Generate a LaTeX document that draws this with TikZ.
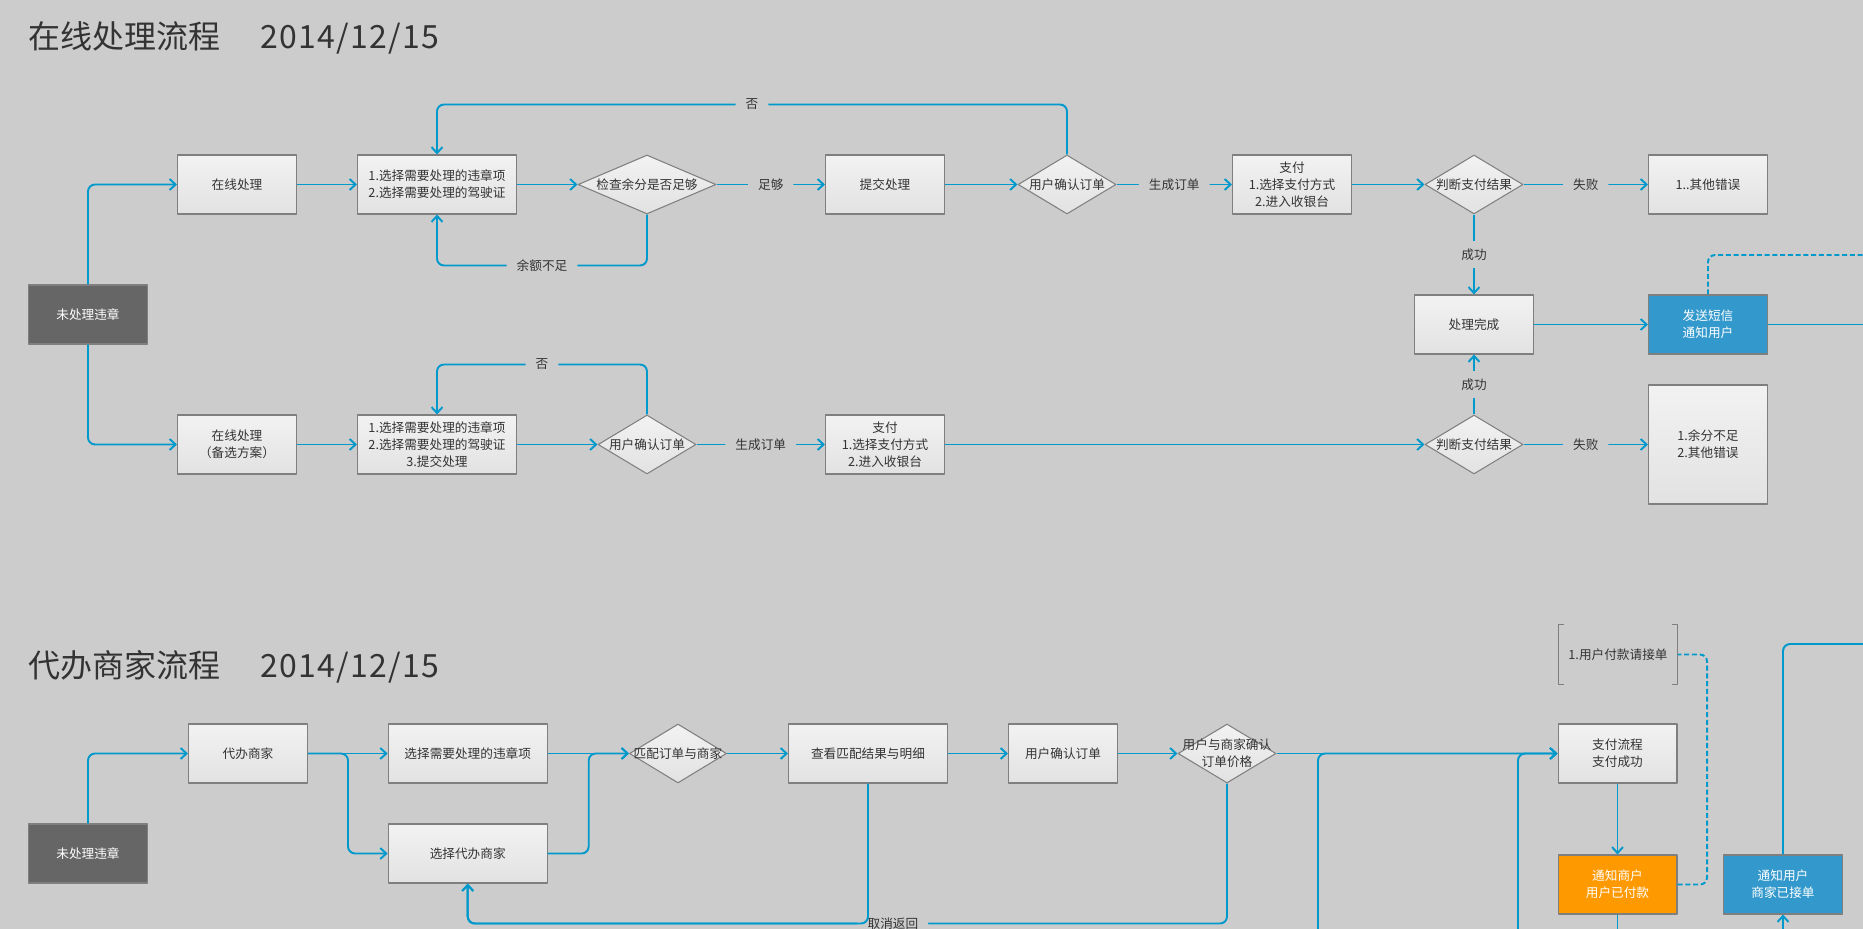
\documentclass[tikz,border=0pt]{standalone}
\usepackage{fontspec}
\newfontfamily\cjk{Noto Sans CJK SC}
\usetikzlibrary{shapes.geometric,arrows.meta}
\definecolor{bgc}{HTML}{CCCCCC}
\definecolor{linec}{HTML}{0099CC}
\definecolor{boxtop}{HTML}{F2F2F2}
\definecolor{boxbot}{HTML}{E2E2E2}
\definecolor{bordc}{HTML}{7F7F7F}
\definecolor{darkc}{HTML}{666666}
\definecolor{bluec}{HTML}{3399CC}
\definecolor{orangec}{HTML}{FF9900}
\definecolor{txt}{HTML}{333333}
\begin{document}
\begin{tikzpicture}[
    x=0.02cm,y=-0.02cm,line join=round,
    font=\cjk\fontsize{7.2}{9.8}\selectfont,text=txt,
    blk/.style={rectangle,draw=bordc,line width=0.6pt,minimum width=2.38cm,
        minimum height=1.18cm,align=center,inner sep=1pt},
    box/.style={blk,top color=boxtop,bottom color=boxbot},
    widebox/.style={box,minimum width=3.18cm},
    pending/.style={blk,fill=darkc,text=white},
    sms/.style={blk,fill=bluec,text=white},
    shop/.style={blk,fill=orangec,text=white},
    cond/.style={diamond,draw=bordc,line width=0.6pt,top color=boxtop,
        bottom color=boxbot,minimum width=1.96cm,minimum height=1.18cm,inner sep=0pt},
    wire/.style={draw=linec,line width=1.1pt,rounded corners=4pt},
    flow/.style={wire,-{Straight Barb[length=0.12cm,width=0.22cm]}},
    dline/.style={wire,dash pattern=on 0.1cm off 0.055cm},
    lbl/.style={fill=bgc,inner xsep=0.2cm,inner ysep=0.15cm},
    heading/.style={font=\cjk\fontsize{18.2}{20}\selectfont,anchor=west,inner sep=0pt}
]
    \useasboundingbox (0,0) rectangle (1863,929);
    \fill[bgc] (0,0) rectangle (1863,929);

    \node[heading] (t1) at (28.5,38) {在线处理流程\hspace{0.8cm}{\addfontfeatures{LetterSpace=4}2014/12/15}};
    \node[pending] (wcl1) at (88,314.5) {未处理违章};
    \node[box] (zx) at (237,184.5) {在线处理};
    \node[widebox] (xz1) at (437,184.5) {1.选择需要处理的违章项\\2.选择需要处理的驾驶证};
    \node[cond,minimum width=2.76cm,label=center:检查余分是否足够] (jc) at (647,184.5) {};
    \node[box] (tj) at (885,184.5) {提交处理};
    \node[cond,label=center:用户确认订单] (qr1) at (1067,184.5) {};
    \node[box] (zf1) at (1292,184.5) {支付\\1.选择支付方式\\2.进入收银台};
    \node[cond,label=center:判断支付结果] (pd1) at (1474,184.5) {};
    \node[box] (cw1) at (1708,184.5) {1..其他错误};
    \node[box] (wc) at (1474,324.5) {处理完成};
    \node[sms] (dx) at (1708,324.5) {发送短信\\通知用户};
    \node[box] (zx2) at (237,444.5) {在线处理\\（备选方案）};
    \node[widebox] (xz2) at (437,444.5) {1.选择需要处理的违章项\\2.选择需要处理的驾驶证\\3.提交处理};
    \node[cond,label=center:用户确认订单] (qr2) at (647,444.5) {};
    \node[box] (zf2) at (885,444.5) {支付\\1.选择支付方式\\2.进入收银台};
    \node[cond,label=center:判断支付结果] (pd2) at (1474,444.5) {};
    \node[box,minimum height=2.38cm] (cw2) at (1708,444.5) {1.余分不足\\2.其他错误};
    \coordinate (dxr) at (1863,324.5);
    \coordinate (dxd) at (1863,255);

    \draw[flow] (wcl1) |- (zx);
    \draw[flow] (zx) -- (xz1);
    \draw[flow] (xz1) -- (jc);
    \draw[flow] (jc) -- node[lbl]{足够} (tj);
    \draw[flow] (tj) -- (qr1);
    \draw[flow] (qr1) -- node[lbl]{生成订单} (zf1);
    \draw[flow] (zf1) -- (pd1);
    \draw[flow] (pd1) -- node[lbl]{失败} (cw1);
    \draw[flow] (pd1) -- node[lbl]{成功} (wc);
    \draw[flow] (wc) -- (dx);
    \draw[flow] (qr1.north) -- ++(0,-50) -| node[lbl,pos=0.25]{否} (xz1.north);
    \draw[flow] (jc.south) -- ++(0,51) -| node[lbl,pos=0.25]{余额不足} (xz1.south);
    \draw[wire] (dx) -- (dxr);
    \draw[dline] (dx.north) |- (dxd);
    \draw[flow] (wcl1) |- (zx2);
    \draw[flow] (zx2) -- (xz2);
    \draw[flow] (xz2) -- (qr2);
    \draw[flow] (qr2) -- node[lbl]{生成订单} (zf2);
    \draw[flow] (zf2) -- (pd2);
    \draw[flow] (pd2) -- node[lbl]{失败} (cw2);
    \draw[flow] (pd2) -- node[lbl]{成功} (wc);
    \draw[flow] (qr2.north) -- ++(0,-50) -| node[lbl,pos=0.25]{否} (xz2.north);

    \node[heading] (t2) at (28.5,667) {代办商家流程\hspace{0.8cm}{\addfontfeatures{LetterSpace=4}2014/12/15}};
    \node[pending] (wcl2) at (88,853.5) {未处理违章};
    \node[box] (db) at (248,753.5) {代办商家};
    \node[widebox] (xz3) at (467.7,753.5) {选择需要处理的违章项};
    \node[widebox] (xdb) at (467.7,853.5) {选择代办商家};
    \node[cond,minimum width=1.94cm,label=center:匹配订单与商家] (pp) at (678,753.5) {};
    \node[widebox] (ck) at (868,753.5) {查看匹配结果与明细};
    \node[box,minimum width=2.18cm] (qr3) at (1063,753.5) {用户确认订单};
    \node[cond,label={[align=center]center:用户与商家确认\\订单价格}] (sj) at (1227,753.5) {};
    \node[minimum width=2.38cm,minimum height=1.18cm,inner sep=0pt] (fk) at (1618,654.5) {1.用户付款请接单};
    \node[box] (zflc) at (1617.5,753.5) {支付流程\\支付成功};
    \node[shop] (tzsh) at (1617.5,884.5) {通知商户\\用户已付款};
    \node[sms] (tzyh) at (1783,884.5) {通知用户\\商家已接单};
    \coordinate (in1) at (1318,929);
    \coordinate (in2) at (1518,929);
    \coordinate (in3) at (1783,929);
    \coordinate (tzshb) at (1617.5,929);
    \coordinate (out3) at (1863,644);

    \draw[draw=bordc,line width=0.6pt] ([xshift=0.12cm]fk.north west) -- (fk.north west)
        -- (fk.south west) -- ([xshift=0.12cm]fk.south west);
    \draw[draw=bordc,line width=0.6pt] ([xshift=-0.12cm]fk.north east) -- (fk.north east)
        -- (fk.south east) -- ([xshift=-0.12cm]fk.south east);
    \draw[flow] (wcl2) |- (db);
    \draw[flow] (db) -- (xz3);
    \draw[flow] (db.east) -- ++(40,0) |- (xdb);
    \draw[flow] (xz3) -- (pp);
    \draw[flow] (xdb.east) -- ++(41,0) |- (pp);
    \draw[flow] (pp) -- (ck);
    \draw[flow] (ck) -- (qr3);
    \draw[flow] (qr3) -- (sj);
    \draw[flow] (sj) -- (zflc);
    \draw[flow] (sj.south) -- ++(0,140) -| node[lbl,pos=0.22]{取消返回} (xdb.south);
    \draw[flow] (ck.south) -- ++(0,140) -| (xdb.south);
    \draw[flow] (in1) |- (zflc);
    \draw[flow] (in2) |- (zflc);
    \draw[flow] (zflc) -- (tzsh);
    \draw[wire] (tzsh) -- (tzshb);
    \draw[dline] (tzsh.east) -- ++(29.5,0) |- (fk.east);
    \draw[flow] (in3) -- (tzyh);
    \draw[wire] (tzyh.north) |- (out3);
\end{tikzpicture}
\end{document}
